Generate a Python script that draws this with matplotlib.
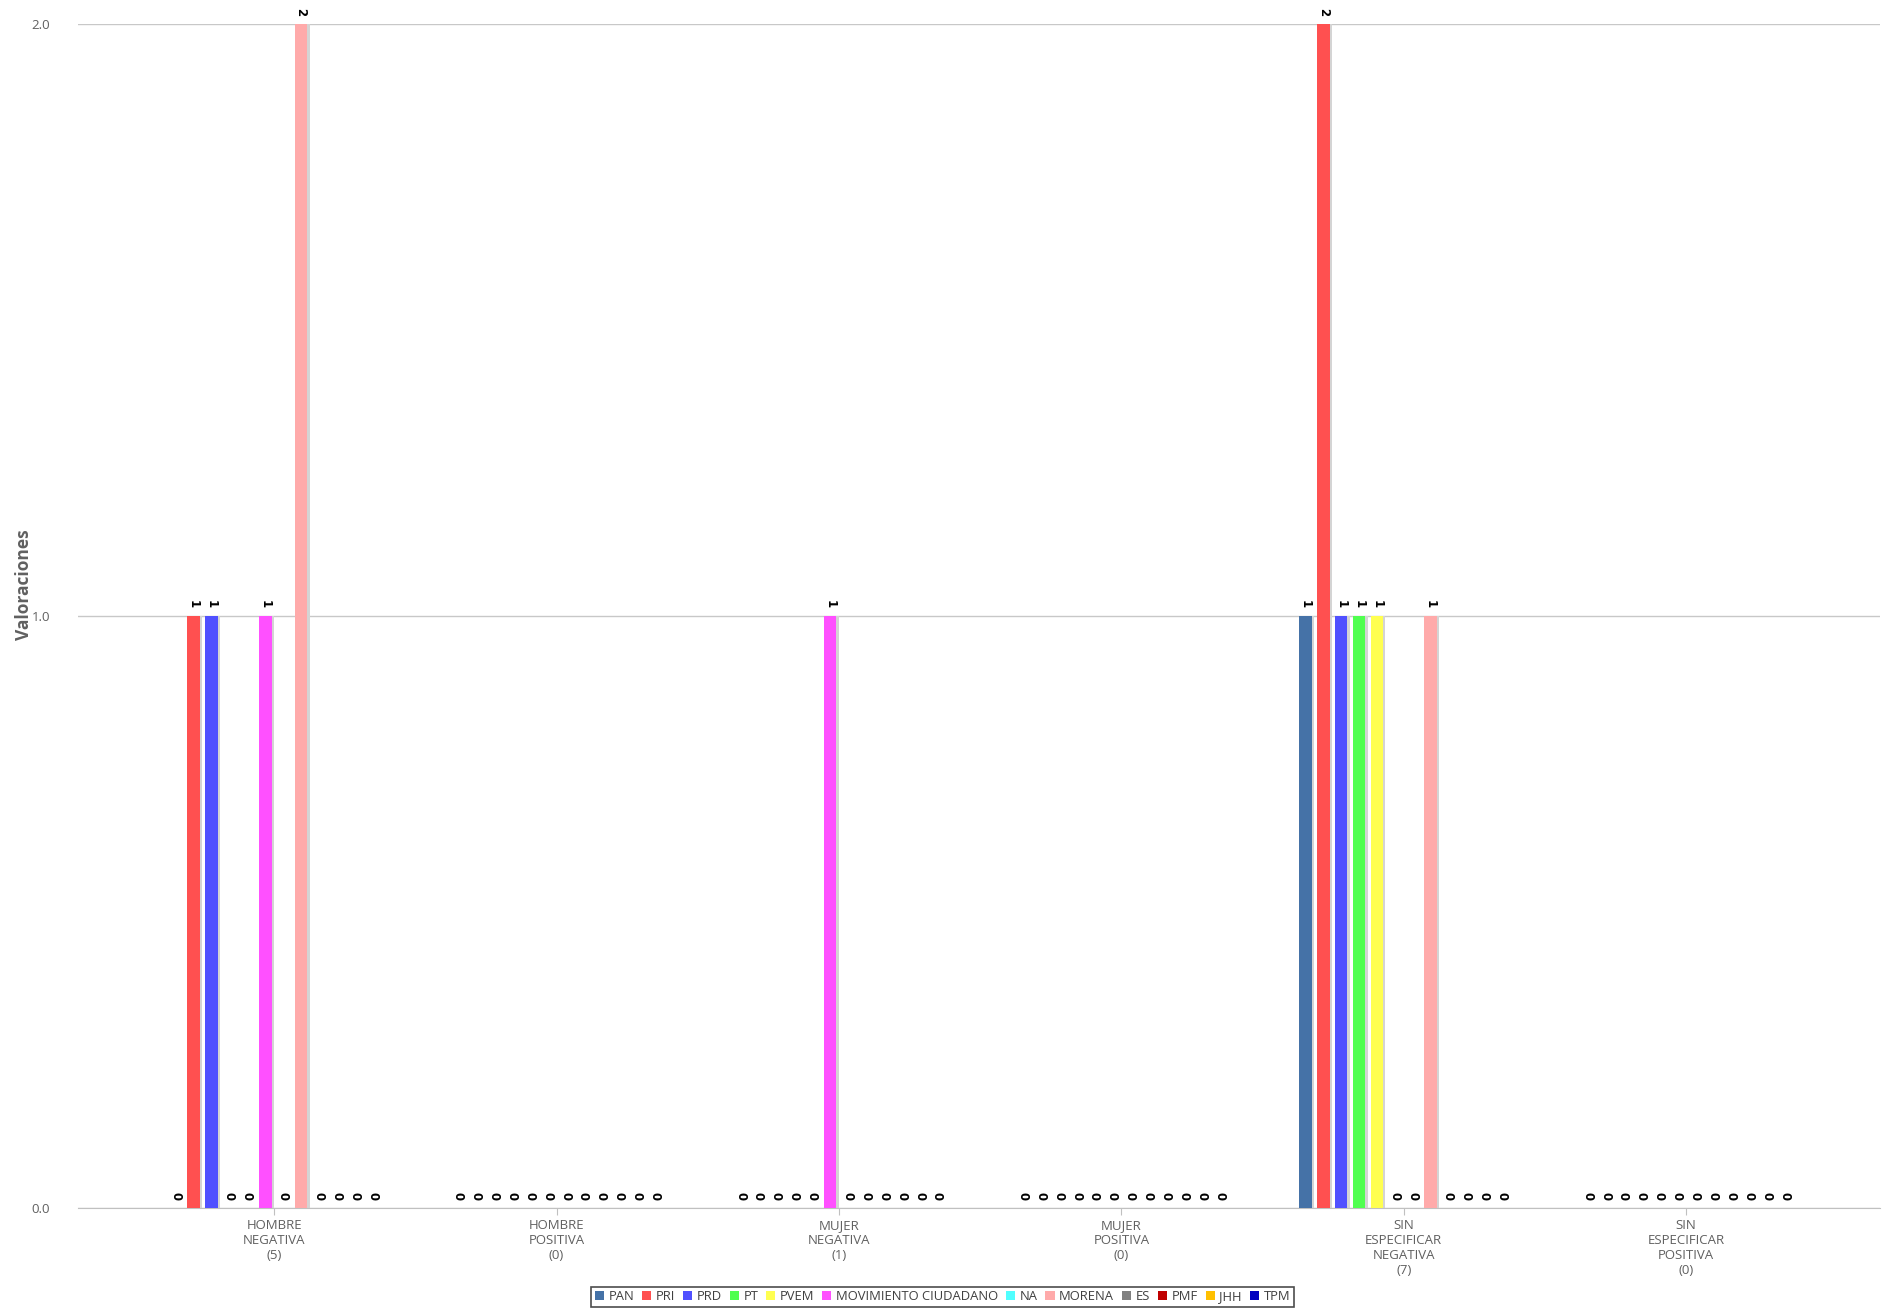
import numpy as np
import matplotlib.pyplot as plt

plt.rcParams['font.family'] = ['Open Sans', 'DejaVu Sans']

categorias = ['HOMBRE\nNEGATIVA\n(5)', 'HOMBRE\nPOSITIVA\n(0)', 'MUJER\nNEGATIVA\n(1)',
              'MUJER\nPOSITIVA\n(0)', 'SIN\nESPECIFICAR\nNEGATIVA\n(7)', 'SIN\nESPECIFICAR\nPOSITIVA\n(0)']
partidos = ['PAN', 'PRI', 'PRD', 'PT', 'PVEM', 'MOVIMIENTO CIUDADANO', 'NA', 'MORENA',
            'ES', 'PMF', 'JHH', 'TPM']
colores = ['#4572A7', '#FF5050', '#5050FF', '#50FF50', '#FFFF50', '#FF50FF', '#50FFFF',
           '#FFAAAA', '#808080', '#C00000', '#FFC000', '#0000C0']

# valores por partido, uno por categoria
PAN = [0, 0, 0, 0, 1, 0]
PRI = [1, 0, 0, 0, 2, 0]
PRD = [1, 0, 0, 0, 1, 0]
PT = [0, 0, 0, 0, 1, 0]
PVEM = [0, 0, 0, 0, 1, 0]
MC = [1, 0, 1, 0, 0, 0]
NA = [0, 0, 0, 0, 0, 0]
MORENA = [2, 0, 0, 0, 1, 0]
ES = [0, 0, 0, 0, 0, 0]
PMF = [0, 0, 0, 0, 0, 0]
JHH = [0, 0, 0, 0, 0, 0]
TPM = [0, 0, 0, 0, 0, 0]
series = [PAN, PRI, PRD, PT, PVEM, MC, NA, MORENA, ES, PMF, JHH, TPM]

fig = plt.figure(figsize=(18.85, 13.10), dpi=100)
ax = fig.add_axes([0.04138, 0.0779, 0.9560, 0.9038])

x = np.arange(len(categorias))
paso = 0.0634
ancho = 0.045
for i, (nombre, vals, col) in enumerate(zip(partidos, series, colores)):
    pos = x + (i - 5.5) * paso
    # sombra
    ax.bar(pos + 0.008, vals, ancho, color='#d4d4d4', zorder=2)
    ax.bar(pos, vals, ancho, color=col, label=nombre, zorder=3)
    for p, v in zip(pos, vals):
        ax.text(p, v + 0.014, str(v), rotation=-90, ha='center', va='bottom',
                fontsize=8.5, fontweight='bold', color='black', family='DejaVu Sans',
                clip_on=False, zorder=5)

ax.set_xlim(-0.695, 5.687)
ax.set_ylim(0, 2)
ax.set_yticks([0, 1, 2])
ax.set_yticklabels(['0.0', '1.0', '2.0'])
ax.set_xticks(x)
ax.set_xticklabels(categorias, fontsize=9.5, color='#606060', linespacing=1.2)
ax.tick_params(axis='y', length=0, labelsize=9.5, labelcolor='#606060', pad=20)
ax.tick_params(axis='x', length=5, color='#C0C0C0', pad=3)
ax.grid(axis='y', color='#C8C8C8', linewidth=1, zorder=0)
for s in ['top', 'right', 'left']:
    ax.spines[s].set_visible(False)
ax.spines['bottom'].set_color('#C0C0C0')
ax.set_ylabel('Valoraciones', fontsize=12.5, fontweight='bold', color='#606060')
ax.yaxis.set_label_coords(-0.025, 0.526)

leg = fig.legend(loc='lower center', bbox_to_anchor=(0.5, 0.002), ncol=12, fontsize=9.4,
                 frameon=True, fancybox=False, edgecolor='#202020', handlelength=0.7,
                 handleheight=0.7, handletextpad=0.35, columnspacing=0.6, borderpad=0.3,
                 borderaxespad=0)
for t in leg.get_texts():
    t.set_color('#404040')
leg.get_frame().set_linewidth(1.2)

fig.savefig('out.png', dpi=100)
